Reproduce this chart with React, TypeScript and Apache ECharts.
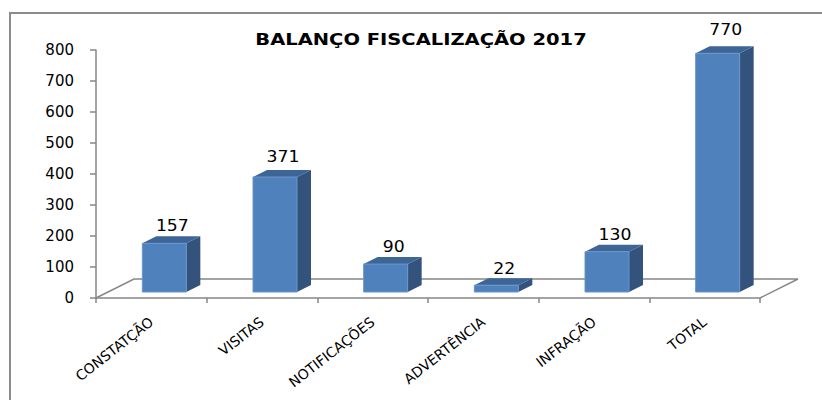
import React, { useEffect, useRef } from "react";
import * as echarts from "echarts";

const TITLE = "BALANÇO FISCALIZAÇÃO 2017";
const CATEGORIES = ["CONSTATÇÃO", "VISITAS", "NOTIFICAÇÕES", "ADVERTÊNCIA", "INFRAÇÃO", "TOTAL"];
const VALUES = [157, 371, 90, 22, 130, 770];
const Y_MIN = 0;
const Y_MAX = 800;
const Y_STEP = 100;

const GRID = { left: 96, right: 62, top: 50, bottom: 102 };
const W = 822;
const H = 400;
const FLOOR_DX = 38;
const FLOOR_DY = 19;
const FONT = "DejaVu Sans";

export default function App() {
  const ref = useRef<HTMLDivElement>(null);
  useEffect(() => {
    if (!ref.current) return;
    const chart = echarts.init(ref.current, undefined, { renderer: "svg" });
    const gx0 = GRID.left;
    const gx1 = W - GRID.right;
    const gy = H - GRID.bottom;
    const grey = "#878787";
    chart.setOption({
      animation: false,
      backgroundColor: "#ffffff",
      grid: { ...GRID, containLabel: false },
      graphic: [
        {
          type: "rect",
          shape: { x: 10, y: 13, width: 900, height: 500 },
          style: { fill: "none", stroke: "#8c8c8c", lineWidth: 2 },
          z: 0,
        },
        {
          type: "text",
          x: 421,
          y: 39,
          scaleX: 1.22,
          style: {
            text: TITLE,
            fill: "#000",
            font: `bold 16px "${FONT}"`,
            align: "center",
            verticalAlign: "middle",
          },
        },
        {
          type: "polyline",
          shape: {
            points: [
              [gx0, gy],
              [gx0 + FLOOR_DX, gy - FLOOR_DY],
              [gx1 + FLOOR_DX, gy - FLOOR_DY],
              [gx1, gy],
            ],
          },
          style: { fill: "none", stroke: grey, lineWidth: 1.5 },
          z: 1,
        },
      ],
      xAxis: {
        type: "category",
        data: CATEGORIES,
        boundaryGap: true,
        axisLine: { lineStyle: { color: grey, width: 1.5 } },
        axisTick: { show: true, length: 5, lineStyle: { color: grey, width: 1.5 } },
        axisLabel: {
          interval: 0,
          rotate: 38,
          margin: 22,
          color: "#000",
          fontSize: 14,
          fontFamily: FONT,
        },
        splitLine: { show: false },
      },
      yAxis: {
        type: "value",
        min: Y_MIN,
        max: Y_MAX,
        interval: Y_STEP,
        axisLine: { show: true, lineStyle: { color: grey, width: 1.5 } },
        axisTick: { show: true, length: 6, lineStyle: { color: grey, width: 1.5 } },
        axisLabel: { margin: 22, color: "#000", fontSize: 15, fontFamily: FONT },
        splitLine: { show: false },
      },
      series: [
        {
          type: "custom",
          data: VALUES.map((v, i) => [i, v]),
          encode: { x: 0, y: 1 },
          z: 5,
          renderItem: (params: any, api: any) => {
            const idx = api.value(0);
            const v = api.value(1);
            const base = api.coord([idx, 0]);
            const top = api.coord([idx, v]);
            const cx = base[0] + 13;
            const lift = 6;
            const w = 44;
            const dx = 14;
            const dy = 7;
            const x0 = cx - w / 2;
            const x1 = cx + w / 2;
            const yb = base[1] - lift;
            const yt = top[1] - lift;
            return {
              type: "group",
              children: [
                {
                  type: "polygon",
                  shape: { points: [[x1, yt], [x1 + dx, yt - dy], [x1 + dx, yb - dy], [x1, yb]] },
                  style: { fill: "#33537c" },
                },
                {
                  type: "polygon",
                  shape: { points: [[x0, yt], [x0 + dx, yt - dy], [x1 + dx, yt - dy], [x1, yt]] },
                  style: { fill: "#3d6596" },
                },
                {
                  type: "rect",
                  shape: { x: x0, y: yt, width: w, height: yb - yt },
                  style: { fill: "#4f81bd", stroke: "#6a95cb", lineWidth: 1 },
                },
                {
                  type: "text",
                  x: cx + 8,
                  y: yt - dy - (9 + v * 0.01),
                  scaleX: 1.15,
                  style: {
                    text: String(v),
                    x: 0,
                    y: 0,
                    align: "center",
                    verticalAlign: "middle",
                    fill: "#000",
                    font: `15px "${FONT}"`,
                  },
                },
              ],
            };
          },
        },
      ],
    });
    return () => chart.dispose();
  }, []);
  return (
    <div
      ref={ref}
      style={{ position: "absolute", left: 0, top: 0, width: W, height: H }}
    />
  );
}
